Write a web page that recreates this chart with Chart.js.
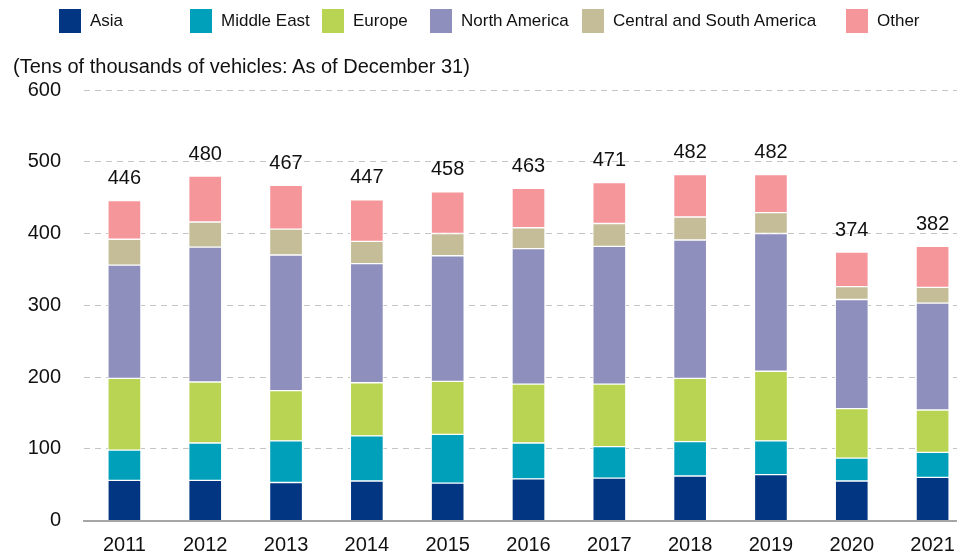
<!DOCTYPE html>
<html>
<head>
<meta charset="utf-8">
<script src="https://cdn.jsdelivr.net/npm/chart.js@4.4.0/dist/chart.umd.min.js"></script>
<style>
  body { margin: 0; width: 957px; height: 552px; overflow: hidden; background: #fff;
         font-family: "Liberation Sans", Arial, sans-serif; }
  #wrap { position: relative; width: 973px; height: 552px; }
  #fleetChart { display: block; }
  #legend { position: absolute; left: 0; top: 0; width: 957px; height: 40px; }
  .item { position: absolute; top: 9px; height: 24px; display: flex; align-items: center;
          font-size: 17px; color: #111; white-space: nowrap; }
  .box { width: 22px; height: 24px; margin-right: 9px; }
  #unit { position: absolute; left: 13px; top: 55px; font-size: 20px; color: #111; white-space: nowrap; }
</style>
</head>
<body>
<div id="wrap">
  <canvas id="fleetChart" width="973" height="552"></canvas>
  <div id="legend"></div>
  <div id="unit">(Tens of thousands of vehicles: As of December 31)</div>
</div>
<script>
// values (tens of thousands of vehicles)
const years = ["2011", "2012", "2013", "2014", "2015", "2016", "2017", "2018", "2019", "2020", "2021"];
const asia = [56, 56, 53, 55, 52, 58, 59, 62, 64, 55, 60];
const middleEast = [42, 52, 58, 63, 68, 50, 44, 48, 47, 32, 35];
const europe = [100, 85, 70, 74, 74, 82, 87, 88, 97, 69, 59];
const northAmerica = [158, 188, 189, 166, 175, 189, 192, 193, 192, 152, 149];
const centralSouthAmerica = [36, 35, 36, 31, 31, 29, 32, 32, 29, 18, 22];
const other = [54, 64, 61, 58, 58, 55, 57, 59, 53, 48, 57];
const totals = [446, 480, 467, 447, 458, 463, 471, 482, 482, 374, 382];

const series = [
  { label: "Asia", data: asia, color: "#023682" },
  { label: "Middle East", data: middleEast, color: "#00a0ba" },
  { label: "Europe", data: europe, color: "#b8d452" },
  { label: "North America", data: northAmerica, color: "#8e8fbd" },
  { label: "Central and South America", data: centralSouthAmerica, color: "#c4bd97" },
  { label: "Other", data: other, color: "#f5969b" },
];

// legend columns as laid out in the original
const legendLeft = [59, 190, 322, 430, 582, 846];
const legendEl = document.getElementById("legend");
series.forEach((s, i) => {
  const item = document.createElement("div");
  item.className = "item";
  item.style.left = legendLeft[i] + "px";
  item.innerHTML = '<span class="box" style="background:' + s.color + '"></span>' + s.label;
  legendEl.appendChild(item);
});

// draws the total above each stacked column
const totalLabels = {
  id: "totalLabels",
  afterDatasetsDraw(chart) {
    const ctx = chart.ctx;
    const topMeta = chart.getDatasetMeta(chart.data.datasets.length - 1);
    ctx.save();
    ctx.font = '20px "Liberation Sans", Arial, sans-serif';
    ctx.fillStyle = "#111";
    ctx.textAlign = "center";
    ctx.textBaseline = "middle";
    topMeta.data.forEach((bar, i) => {
      ctx.fillText(String(totals[i]), bar.x, bar.y - 22);
    });
    ctx.restore();
  },
};

const ctx = document.getElementById("fleetChart");
new Chart(ctx, {
  type: "bar",
  data: {
    labels: years,
    datasets: series.map((s, i) => ({
      label: s.label,
      data: s.data,
      backgroundColor: s.color,
      borderColor: "#ffffff",
      borderWidth: 1,
      borderSkipped: i === 0 ? "start" : false,
      barThickness: 33,
    })),
  },
  options: {
    responsive: false,
    animation: false,
    layout: { padding: { top: 90, left: 0, right: 0, bottom: 0 } },
    plugins: {
      legend: { display: false },
      tooltip: { enabled: false },
    },
    scales: {
      x: {
        stacked: true,
        grid: { display: false, drawTicks: false },
        border: { display: true, color: "#a6a6a6", width: 2 },
        ticks: {
          color: "#111",
          padding: 13,
          font: { family: '"Liberation Sans", Arial, sans-serif', size: 20 },
        },
        afterFit(scale) { scale.height = 31.5; },
      },
      y: {
        stacked: true,
        min: 0,
        max: 600,
        grid: { color: "#c4c4c4", lineWidth: 1, drawTicks: false },
        border: { display: false, dash: [6, 5] },
        ticks: {
          stepSize: 100,
          color: "#111",
          padding: 23,
          font: { family: '"Liberation Sans", Arial, sans-serif', size: 20 },
        },
        afterFit(scale) {
          scale.width = 84;
          // tick padding would otherwise push the plot bottom up
          scale.paddingBottom = 12;
          scale.paddingTop = 12;
        },
      },
    },
  },
  plugins: [totalLabels],
});
</script>
</body>
</html>
